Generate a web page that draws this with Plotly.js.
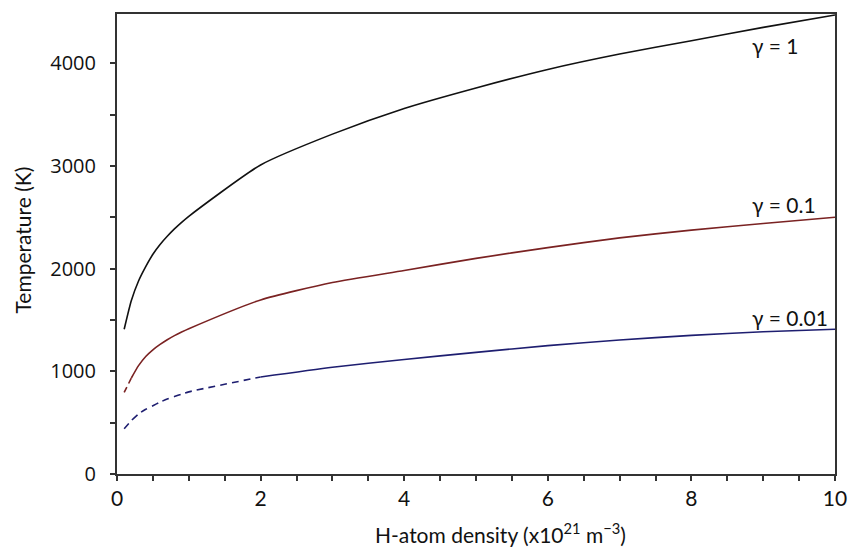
<!DOCTYPE html>
<html>
<head>
<meta charset="utf-8">
<script src="https://cdn.plot.ly/plotly-3.0.1.min.js"></script>
<style>html,body{margin:0;padding:0;background:#fff}#chart{width:850px;height:550px}</style>
</head>
<body>
<div id="chart"></div>
<script>
// H-atom density (x10^21 m^-3)
const density = [0.1, 0.2, 0.3, 0.4, 0.5, 0.6, 0.7, 0.8, 0.9, 1, 2, 3, 4, 5, 6, 7, 8, 9, 10];
// Temperature (K) for each gamma
const tGamma1    = [1410, 1690, 1880, 2020, 2140, 2235, 2315, 2387, 2451, 2510, 3010, 3310, 3560, 3760, 3940, 4090, 4220, 4350, 4470];
const tGamma01   = [794, 935, 1055, 1145, 1210, 1262, 1308, 1348, 1383, 1415, 1695, 1865, 1982, 2100, 2205, 2300, 2375, 2440, 2500];
const tGamma001  = [440, 520, 585, 630, 665, 700, 730, 755, 778, 800, 945, 1040, 1115, 1185, 1250, 1305, 1350, 1385, 1410];
const labels = ["γ = 1", "γ = 0.1", "γ = 0.01"];
const xTitle = "H-atom density (x10<sup>21</sup> m<sup>−3</sup>)";
const yTitle = "Temperature (K)";
// index in density where dashed part ends and solid part begins
const dashEnd01 = 1;   // gamma 0.1: dashed 0.1–0.2
const dashEnd001 = 10; // gamma 0.01: dashed 0.1–2

const cBlack = "#111111", cRed = "#7a2222", cBlue = "#1e1e70";
const sm = 0.6;

const traces = [
  {x: density, y: tGamma1, mode: "lines", line: {color: cBlack, width: 1.6, shape: "spline", smoothing: sm}},
  {x: density.slice(0, dashEnd01 + 1), y: tGamma01.slice(0, dashEnd01 + 1), mode: "lines", line: {color: cRed, width: 1.6, dash: "6px,4px"}},
  {x: density.slice(dashEnd01), y: tGamma01.slice(dashEnd01), mode: "lines", line: {color: cRed, width: 1.6, shape: "spline", smoothing: sm}},
  {x: density.slice(0, dashEnd001 + 1), y: tGamma001.slice(0, dashEnd001 + 1), mode: "lines", line: {color: cBlue, width: 1.6, dash: "7px,5px", shape: "spline", smoothing: sm}},
  {x: density.slice(dashEnd001), y: tGamma001.slice(dashEnd001), mode: "lines", line: {color: cBlue, width: 1.6, shape: "spline", smoothing: sm}}
];

const annFont = {family: "Lato, 'Open Sans', sans-serif", size: 21, color: "#111"};
const titleFont = {family: "Lato, sans-serif", size: 21, color: "#111"};
const layout = {
  width: 850, height: 550,
  margin: {l: 117, r: 15, t: 14, b: 76},
  paper_bgcolor: "#fff", plot_bgcolor: "#fff",
  showlegend: false,
  xaxis: {
    range: [0, 10], dtick: 2, tick0: 0,
    showgrid: false, zeroline: false,
    showline: true, linecolor: "#333", linewidth: 2, mirror: true,
    ticks: "outside", ticklen: 5, tickwidth: 2, tickcolor: "#333",
    minor: {dtick: 0.5, ticks: "outside", ticklen: 5, tickwidth: 2, tickcolor: "#333", showgrid: false},
    tickfont: {family: "Lato, sans-serif", size: 21, color: "#111"}
  },
  yaxis: {
    range: [0, 4480], dtick: 1000, tick0: 0,
    showgrid: false, zeroline: false,
    showline: true, linecolor: "#333", linewidth: 2, mirror: true,
    ticks: "outside", ticklen: 5, tickwidth: 2, tickcolor: "#333",
    minor: {dtick: 500, ticks: "outside", ticklen: 5, tickwidth: 2, tickcolor: "#333", showgrid: false},
    tickfont: {family: "'Open Sans', sans-serif", size: 20, color: "#111"},
    ticklabelstandoff: 10
  },
  annotations: [
    {x: 8.82, y: 4176, xref: "x", yref: "y", xanchor: "left", yanchor: "middle", text: labels[0], showarrow: false, font: annFont},
    {x: 8.82, y: 2627, xref: "x", yref: "y", xanchor: "left", yanchor: "middle", text: labels[1], showarrow: false, font: annFont},
    {x: 8.82, y: 1525, xref: "x", yref: "y", xanchor: "left", yanchor: "middle", text: labels[2], showarrow: false, font: annFont},
    {x: 0.534, y: -0.128, xref: "paper", yref: "paper", xanchor: "center", yanchor: "middle", text: xTitle, showarrow: false, font: titleFont},
    {x: -0.132, y: 0.508, xref: "paper", yref: "paper", xanchor: "center", yanchor: "middle", textangle: -90, text: yTitle, showarrow: false, font: titleFont}
  ]
};

Plotly.newPlot("chart", traces, layout, {staticPlot: true, displayModeBar: false});
</script>
</body>
</html>
